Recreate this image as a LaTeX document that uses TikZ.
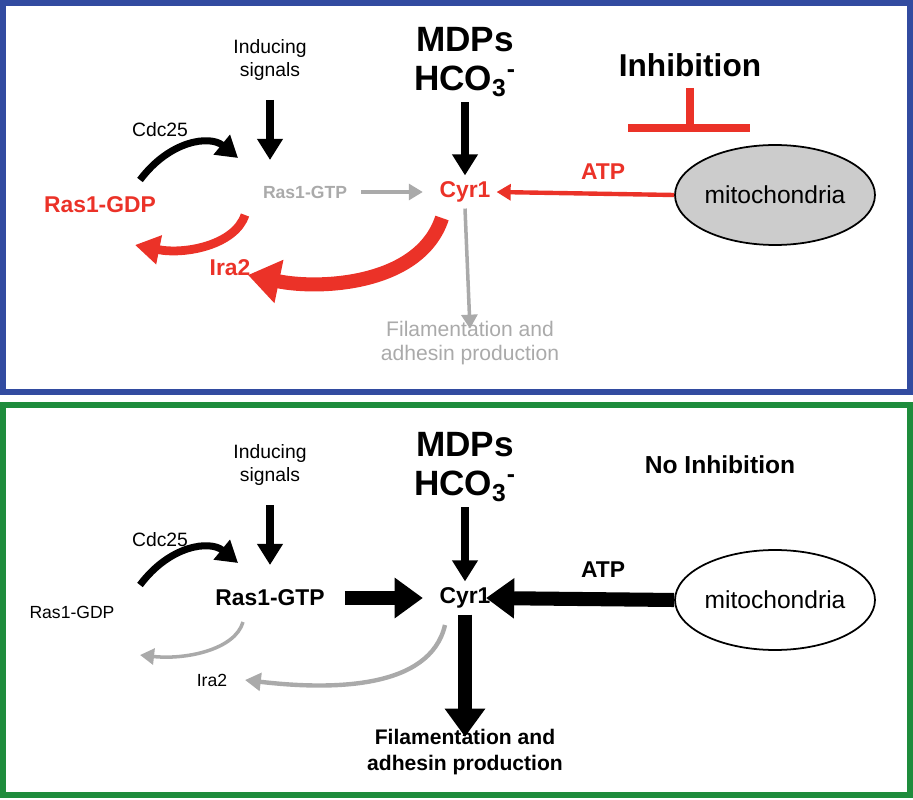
\documentclass[tikz,border=0pt]{standalone}
\usepackage{fontspec}
\setmainfont{Liberation Sans}
\usetikzlibrary{arrows.meta,shapes.geometric}
\definecolor{boxblue}{RGB}{50,75,160}
\definecolor{boxgreen}{RGB}{30,140,60}
\definecolor{inhred}{RGB}{235,50,40}
\definecolor{lgray}{RGB}{170,170,170}
\tikzset{
  small/.style={font=\fontsize{11}{13}\selectfont, align=center},
  big/.style={font=\fontsize{20}{22}\selectfont\bfseries},
  mid/.style={font=\fontsize{13}{15}\selectfont\bfseries},
  down/.style={line width=4pt,-{Triangle[length=12pt,width=14pt]}},
  fat/.style={line width=8pt,-{Triangle[length=16pt,width=22pt]}},
  thin/.style={line width=2pt,-{Triangle[length=8pt,width=9pt]}},
}
\begin{document}
\begin{tikzpicture}[x=0.02cm,y=-0.02cm]
\useasboundingbox (0,0) rectangle (913,800);
% top panel
\draw[boxblue,line width=3pt] (3,3) rectangle (910,392);
\node[small] (ind1) at (270,60) {Inducing\\signals};
\coordinate (ind1e) at (270,160);
\draw[down] (270,100) -- (ind1e);
\node[big,align=center] (mdp1) at (465,62) {MDPs\\HCO\textsubscript{3}\textsuperscript{-}};
\node[mid,inhred] (cyr1) at (465,192) {Cyr1};
\draw[down] (mdp1.south) -- (cyr1.north);
\node[big,font=\fontsize{18}{20}\selectfont\bfseries] (inh) at (690,65) {Inhibition};
\draw[inhred,line width=5pt] (690,88) -- (690,128);
\draw[inhred,line width=5pt] (628,128) -- (750,128);
\node[ellipse,draw,fill=lgray!60,line width=1pt,
  inner sep=0pt, minimum width=4cm, minimum height=2cm,
  font=\fontsize{14}{16}\selectfont] (mito1) at (775,195) {mitochondria};
\draw[inhred,thin,line width=2.5pt] (mito1.west) -- (cyr1.east);
\node[mid,inhred] (atp1) at (603,172) {ATP};
\node[lgray,font=\fontsize{10}{12}\selectfont\bfseries] (gtp1) at (305,192) {Ras1-GTP};
\draw[lgray,thin] (gtp1.east)+(8,0) -- ([xshift=-6]cyr1.west);
\node[small,lgray,font=\fontsize{12}{14}\selectfont] (fil1) at (470,343) {Filamentation and\\adhesin production};
\draw[lgray,thin] (cyr1.south) -- ([yshift=-8]fil1.north);
\node[small] (cdc1) at (160,130) {Cdc25};
\node[mid,inhred] (gdp1) at (100,205) {Ras1-GDP};
\node[mid,inhred] (ira1) at (230,268) {Ira2};
\draw[line width=4pt,-{Triangle[length=12pt,width=14pt]}] (140,180) .. controls (170,140) and (210,135) .. (238,158);
\draw[inhred,line width=5pt,-{Triangle[length=14pt,width=16pt]}] (245,215) .. controls (235,245) and (185,255) .. (135,245);
\draw[inhred,line width=8pt,-{Triangle[length=18pt,width=24pt]}] (442,218) .. controls (420,285) and (320,290) .. (248,275);
% bottom panel
\draw[boxgreen,line width=3pt] (3,405) rectangle (910,795);
\node[small] (ind2) at (270,465) {Inducing\\signals};
\coordinate (ind2e) at (270,565);
\draw[down] (270,505) -- (ind2e);
\node[big,align=center] (mdp2) at (465,467) {MDPs\\HCO\textsubscript{3}\textsuperscript{-}};
\node[mid] (cyr2) at (465,598) {Cyr1};
\draw[down] (mdp2.south) -- (cyr2.north);
\node[font=\fontsize{14}{16}\selectfont\bfseries] (noinh) at (720,465) {No Inhibition};
\node[ellipse,draw,line width=1pt,inner sep=0pt,minimum width=4cm,minimum height=2cm,
  font=\fontsize{14}{16}\selectfont] (mito2) at (775,600) {mitochondria};
\draw[fat] (mito2.west) -- ([xshift=-6]cyr2.east);
\node[mid] (atp2) at (603,570) {ATP};
\node[mid] (gtp2) at (270,598) {Ras1-GTP};
\draw[fat] ([xshift=8]gtp2.east) -- ([xshift=-6]cyr2.west);
\node[font=\fontsize{12}{15}\selectfont\bfseries,align=center] (fil2) at (465,752) {Filamentation and\\adhesin production};
\draw[fat] (cyr2.south) -- ([yshift=-8]fil2.north);
\node[small] (cdc2) at (160,540) {Cdc25};
\node[small,font=\fontsize{10}{12}\selectfont] (gdp2) at (72,612) {Ras1-GDP};
\node[small,font=\fontsize{10}{12}\selectfont] (ira2) at (212,680) {Ira2};
\draw[line width=4pt,-{Triangle[length=12pt,width=14pt]}] (140,585) .. controls (170,545) and (210,540) .. (238,563);
\draw[lgray,line width=2pt,-{Triangle[length=8pt,width=9pt]}] (243,622) .. controls (235,650) and (185,660) .. (140,655);
\draw[lgray,line width=2.5pt,-{Triangle[length=9pt,width=10pt]}] (445,625) .. controls (430,690) and (330,690) .. (245,680);
\end{tikzpicture}
\end{document}
